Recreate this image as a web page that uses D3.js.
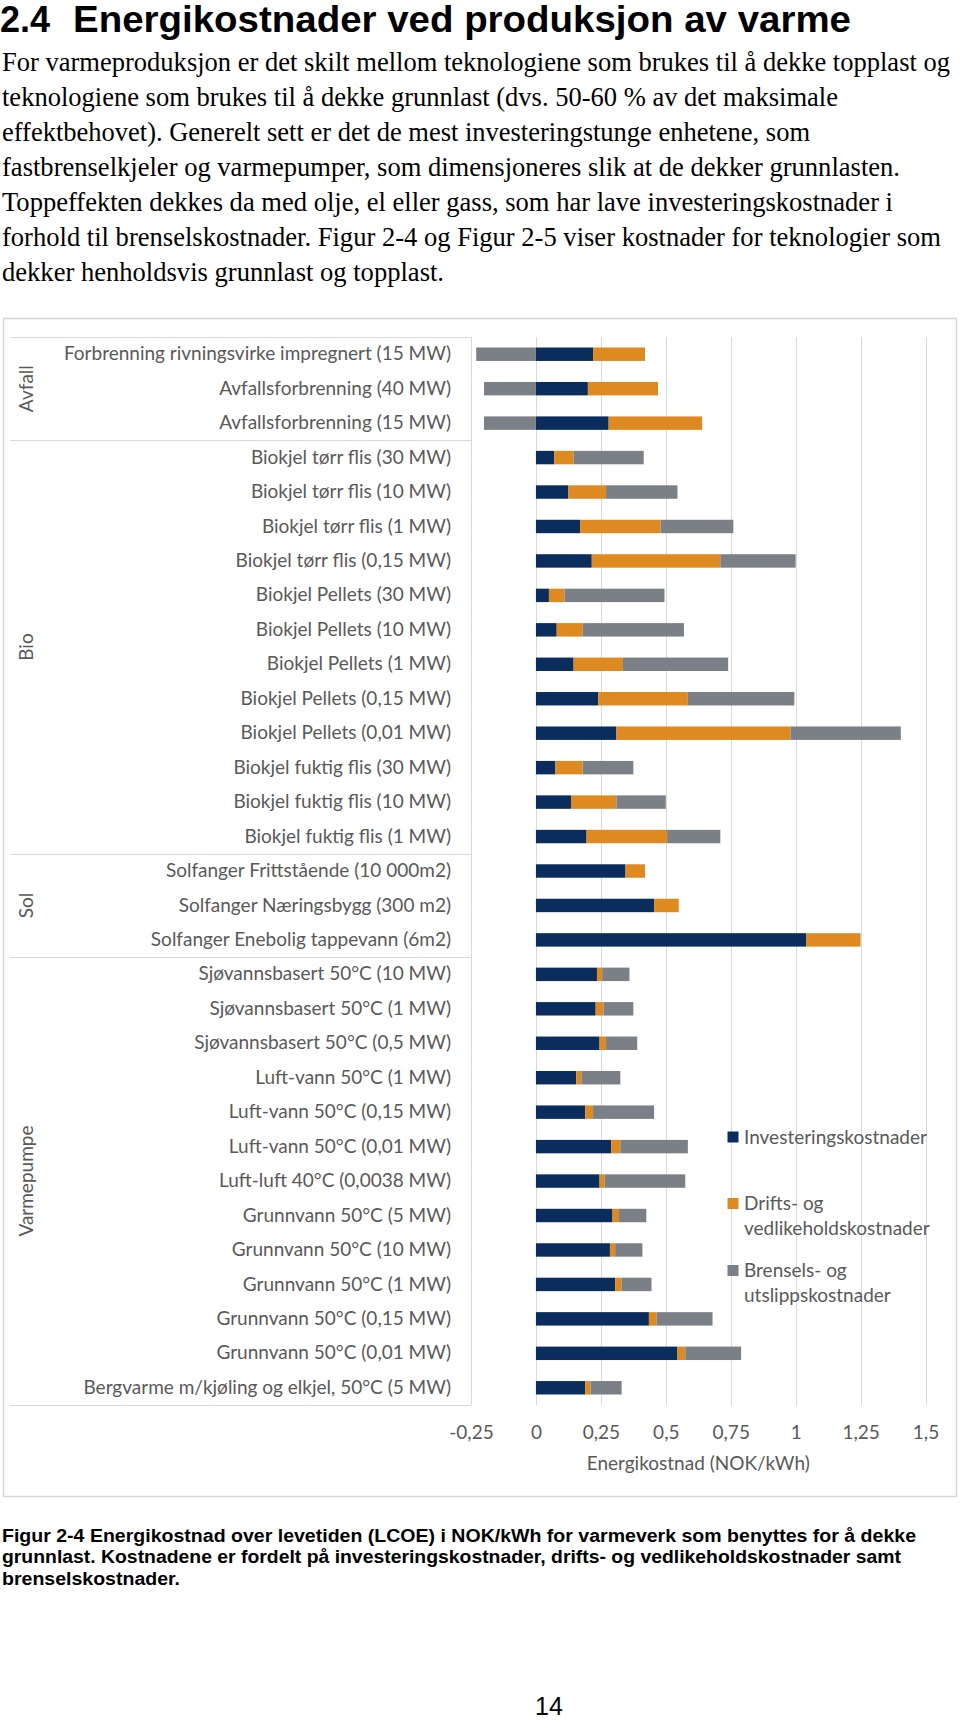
<!DOCTYPE html>
<html>
<head>
<meta charset="utf-8">
<script src="https://cdn.jsdelivr.net/npm/d3@7"></script>
<style>
  body { margin: 0; background: #fff; }
  svg { display: block; }
</style>
</head>
<body>
<script>
// ---------------- DATA ----------------
const categories = [
  "Forbrenning rivningsvirke impregnert (15 MW)",
  "Avfallsforbrenning (40 MW)",
  "Avfallsforbrenning (15 MW)",
  "Biokjel tørr flis (30 MW)",
  "Biokjel tørr flis (10 MW)",
  "Biokjel tørr flis (1 MW)",
  "Biokjel tørr flis (0,15 MW)",
  "Biokjel Pellets (30 MW)",
  "Biokjel Pellets (10 MW)",
  "Biokjel Pellets (1 MW)",
  "Biokjel Pellets (0,15 MW)",
  "Biokjel Pellets (0,01 MW)",
  "Biokjel fuktig flis (30 MW)",
  "Biokjel fuktig flis (10 MW)",
  "Biokjel fuktig flis (1 MW)",
  "Solfanger Frittstående (10 000m2)",
  "Solfanger Næringsbygg (300 m2)",
  "Solfanger Enebolig tappevann (6m2)",
  "Sjøvannsbasert 50°C (10 MW)",
  "Sjøvannsbasert 50°C (1 MW)",
  "Sjøvannsbasert 50°C (0,5 MW)",
  "Luft-vann 50°C (1 MW)",
  "Luft-vann 50°C (0,15 MW)",
  "Luft-vann 50°C (0,01 MW)",
  "Luft-luft 40°C (0,0038 MW)",
  "Grunnvann 50°C (5 MW)",
  "Grunnvann 50°C (10 MW)",
  "Grunnvann 50°C (1 MW)",
  "Grunnvann 50°C (0,15 MW)",
  "Grunnvann 50°C (0,01 MW)",
  "Bergvarme m/kjøling og elkjel, 50°C (5 MW)"
];
const investering = [0.22, 0.20, 0.28, 0.07, 0.125, 0.17, 0.215, 0.05, 0.08, 0.145, 0.24, 0.31, 0.075, 0.135, 0.195,
  0.345, 0.455, 1.04, 0.235, 0.23, 0.245, 0.155, 0.19, 0.29, 0.245, 0.295, 0.285, 0.305, 0.435, 0.545, 0.19];
const drift = [0.20, 0.27, 0.36, 0.075, 0.145, 0.31, 0.495, 0.06, 0.10, 0.19, 0.345, 0.67, 0.105, 0.175, 0.31,
  0.075, 0.095, 0.21, 0.02, 0.03, 0.025, 0.02, 0.03, 0.035, 0.02, 0.025, 0.02, 0.025, 0.03, 0.03, 0.02];
const brensel = [-0.23, -0.20, -0.20, 0.27, 0.275, 0.28, 0.29, 0.385, 0.39, 0.405, 0.41, 0.425, 0.195, 0.19, 0.205,
  0, 0, 0, 0.105, 0.115, 0.12, 0.15, 0.235, 0.26, 0.31, 0.105, 0.105, 0.115, 0.215, 0.215, 0.12];
const groupNames = ["Avfall", "Bio", "Sol", "Varmepumpe"];
const groupSizes = [3, 12, 3, 13];
const seriesKeys = ["inv", "drift", "bren"];
const seriesNames = [["Investeringskostnader"], ["Drifts- og", "vedlikeholdskostnader"], ["Brensels- og", "utslippskostnader"]];
const xTickValues = [-0.25, 0, 0.25, 0.5, 0.75, 1, 1.25, 1.5];
const xTickLabels = ["-0,25", "0", "0,25", "0,5", "0,75", "1", "1,25", "1,5"];
const xTitle = "Energikostnad (NOK/kWh)";

const headingNum = "2.4";
const headingText = "Energikostnader ved produksjon av varme";
const paragraph = [
  "For varmeproduksjon er det skilt mellom teknologiene som brukes til å dekke topplast og",
  "teknologiene som brukes til å dekke grunnlast (dvs. 50-60 % av det maksimale",
  "effektbehovet). Generelt sett er det de mest investeringstunge enhetene, som",
  "fastbrenselkjeler og varmepumper, som dimensjoneres slik at de dekker grunnlasten.",
  "Toppeffekten dekkes da med olje, el eller gass, som har lave investeringskostnader i",
  "forhold til brenselskostnader. Figur 2-4 og Figur 2-5 viser kostnader for teknologier som",
  "dekker henholdsvis grunnlast og topplast."
];
const caption = [
  "Figur 2-4 Energikostnad over levetiden (LCOE) i NOK/kWh for varmeverk som benyttes for å dekke",
  "grunnlast. Kostnadene er fordelt på investeringskostnader, drifts- og vedlikeholdskostnader samt",
  "brenselskostnader."
];
const pageNumber = "14";

// ---------------- LAYOUT / STYLE ----------------
const W = 960, H = 1721;
const colors = { inv: "#0b2d5e", drift: "#df8a21", bren: "#7a8085" };
const paraWidths = [948, 836, 808, 898, 891, 939, 442];
const captionWidths = [914, 899, 178];
const chartFont = "Lato, 'Open Sans', sans-serif";
const chartFontSize = 19;
const labelColor = "#595959";
const gridColor = "#d9d9d9";

const svg = d3.select("body").append("svg").attr("width", W).attr("height", H);
svg.append("rect").attr("width", W).attr("height", H).attr("fill", "#fff");

// Heading
svg.append("text").attr("x", 0).attr("y", 32)
  .attr("font-family", "'Liberation Sans', Arial, sans-serif").attr("font-weight", "bold")
  .attr("font-size", 36).attr("fill", "#000").text(headingNum);
svg.append("text").attr("x", 73).attr("y", 32)
  .attr("font-family", "'Liberation Sans', Arial, sans-serif").attr("font-weight", "bold")
  .attr("font-size", 36).attr("fill", "#000")
  .attr("textLength", 778).attr("lengthAdjust", "spacingAndGlyphs")
  .text(headingText);

// Paragraph
svg.append("g").selectAll("text").data(paragraph).join("text")
  .attr("x", 2).attr("y", (d, i) => 71 + i * 35)
  .attr("font-family", "'Liberation Serif', 'Times New Roman', serif")
  .attr("font-size", 26.5).attr("fill", "#000")
  .attr("textLength", (d, i) => paraWidths[i]).attr("lengthAdjust", "spacingAndGlyphs")
  .text(d => d);

// Chart frame
svg.append("rect").attr("x", 3.5).attr("y", 318.5).attr("width", 953).attr("height", 1178)
  .attr("fill", "#fff").attr("stroke", "#d6d6d6").attr("stroke-width", 1.5);

// Scales
const x = d3.scaleLinear().domain([-0.25, 1.5]).range([471, 925.5]);
const y = d3.scaleBand().domain(categories).range([337, 1405]).paddingInner(0.61).paddingOuter(0.305);

// Gridlines
svg.append("g").selectAll("line").data(xTickValues).join("line")
  .attr("x1", d => Math.round(x(d)) + 0.5).attr("x2", d => Math.round(x(d)) + 0.5)
  .attr("y1", 337).attr("y2", 1405)
  .attr("stroke", gridColor).attr("stroke-width", 1);

// Category group separators
const boundaries = [0];
groupSizes.forEach((s, i) => boundaries.push(boundaries[i] + s));
svg.append("g").selectAll("line").data(boundaries).join("line")
  .attr("x1", 10).attr("x2", x(-0.25))
  .attr("y1", d => Math.round(y.range()[0] + d * y.step()) + 0.5)
  .attr("y2", d => Math.round(y.range()[0] + d * y.step()) + 0.5)
  .attr("stroke", gridColor).attr("stroke-width", 1);

// Group labels
svg.append("g").selectAll("text").data(groupNames).join("text")
  .attr("transform", (d, i) => {
    const cy = y.range()[0] + (boundaries[i] + boundaries[i + 1]) / 2 * y.step();
    return `translate(26,${cy}) rotate(-90)`;
  })
  .attr("text-anchor", "middle").attr("dy", "0.35em")
  .attr("font-family", chartFont).attr("font-size", chartFontSize).attr("fill", labelColor)
  .text(d => d);

// Stacked bars
const rows = categories.map((c, i) => ({ cat: c, inv: investering[i], drift: drift[i], bren: brensel[i] }));
const stack = d3.stack().keys(seriesKeys).offset(d3.stackOffsetDiverging);
const stacked = stack(rows);
svg.append("g").selectAll("g").data(stacked).join("g")
  .attr("fill", d => colors[d.key])
  .selectAll("rect").data(d => d).join("rect")
  .attr("x", d => x(Math.min(d[0], d[1])))
  .attr("width", d => Math.abs(x(d[1]) - x(d[0])))
  .attr("y", d => y(d.data.cat))
  .attr("height", y.bandwidth());

// Category axis
const yAxis = d3.axisLeft(y).tickSize(0).tickPadding(20);
const gy = svg.append("g").attr("transform", `translate(${x(-0.25)},0)`).call(yAxis);
gy.select(".domain").remove();
gy.selectAll("text").attr("font-family", chartFont).attr("font-size", chartFontSize).attr("fill", labelColor);

// Value axis
const xAxis = d3.axisBottom(x).tickValues(xTickValues).tickSize(0).tickPadding(0)
  .tickFormat((d, i) => xTickLabels[i]);
const gx = svg.append("g").attr("transform", `translate(0,1432)`).call(xAxis);
gx.select(".domain").remove();
gx.selectAll("text").attr("dy", "0.35em").attr("y", 0)
  .attr("font-family", chartFont).attr("font-size", chartFontSize).attr("fill", labelColor);

svg.append("text").attr("x", (x(-0.25) + x(1.5)) / 2).attr("y", 1463).attr("dy", "0.35em")
  .attr("text-anchor", "middle").attr("font-family", chartFont).attr("font-size", chartFontSize)
  .attr("fill", labelColor).text(xTitle);

// Legend
const legendTops = [1131.5, 1198, 1265];
const lg = svg.append("g").selectAll("g").data(seriesKeys).join("g");
lg.append("rect").attr("x", 727.5).attr("y", (d, i) => legendTops[i]).attr("width", 11).attr("height", 11)
  .attr("fill", d => colors[d]);
lg.each(function (d, i) {
  d3.select(this).selectAll("text").data(seriesNames[i]).join("text")
    .attr("x", 744).attr("y", (t, j) => legendTops[i] + 5.5 + j * 24.5).attr("dy", "0.35em")
    .attr("font-family", chartFont).attr("font-size", chartFontSize).attr("fill", labelColor)
    .text(t => t);
});

// Caption
svg.append("g").selectAll("text").data(caption).join("text")
  .attr("x", 2).attr("y", (d, i) => 1541.5 + i * 21.8)
  .attr("font-family", "'Liberation Sans', Arial, sans-serif").attr("font-weight", "bold")
  .attr("font-size", 18).attr("fill", "#000")
  .attr("textLength", (d, i) => captionWidths[i]).attr("lengthAdjust", "spacingAndGlyphs")
  .text(d => d);

// Page number
svg.append("text").attr("x", 549).attr("y", 1715).attr("text-anchor", "middle")
  .attr("font-family", "'Liberation Sans', Arial, sans-serif").attr("font-size", 25)
  .attr("fill", "#000").text(pageNumber);
</script>
</body>
</html>
